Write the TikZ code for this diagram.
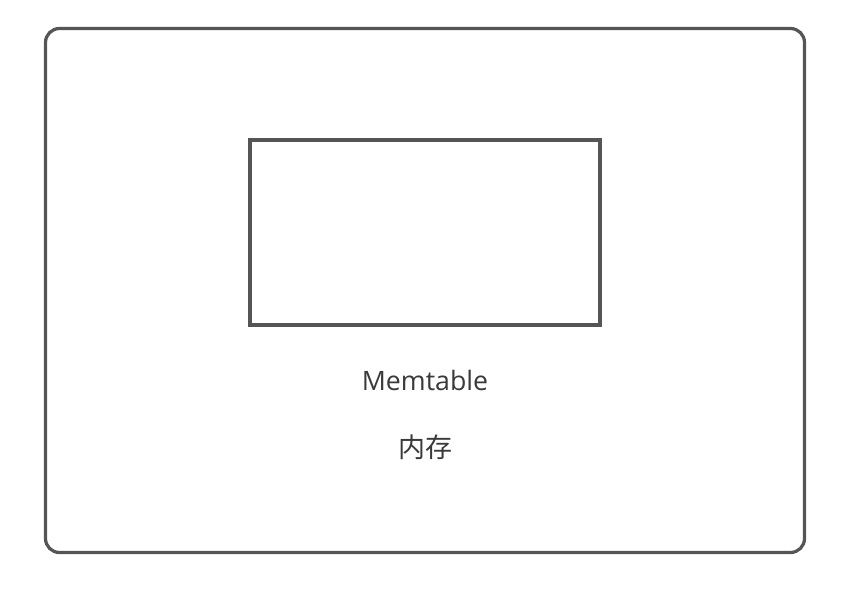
\documentclass[tikz,border=0pt]{standalone}
\usepackage{fontspec}
\setmainfont{Open Sans}
\newfontfamily\cjk{Noto Sans CJK SC}
\usetikzlibrary{positioning}
\definecolor{edgegray}{HTML}{555555}
\definecolor{txtgray}{HTML}{3A3A3A}
\tikzstyle{memframe}=[rectangle,draw=edgegray,line width=3.2pt,rounded corners=14pt,minimum width=759pt,minimum height=524pt,inner sep=0pt]
\tikzstyle{tablebox}=[rectangle,draw=edgegray,line width=3.2pt,minimum width=350pt,minimum height=185pt,inner sep=0pt]
\tikzstyle{lbl}=[text=txtgray,font=\fontsize{26.7}{32}\selectfont,inner sep=0pt]

\begin{document}
\begin{tikzpicture}[x=1pt,y=-1pt]
\useasboundingbox (0,0) rectangle (852,600);
\node[memframe] (mem) at (425,290.5) {};
\node[tablebox] (table) at (425,232.5) {};
\node[lbl] (name) at (425,380) {Memtable};
\node[lbl] (kind) at (425,447) {\cjk\fontsize{27}{32}\selectfont 内存};
\end{tikzpicture}
\end{document}
